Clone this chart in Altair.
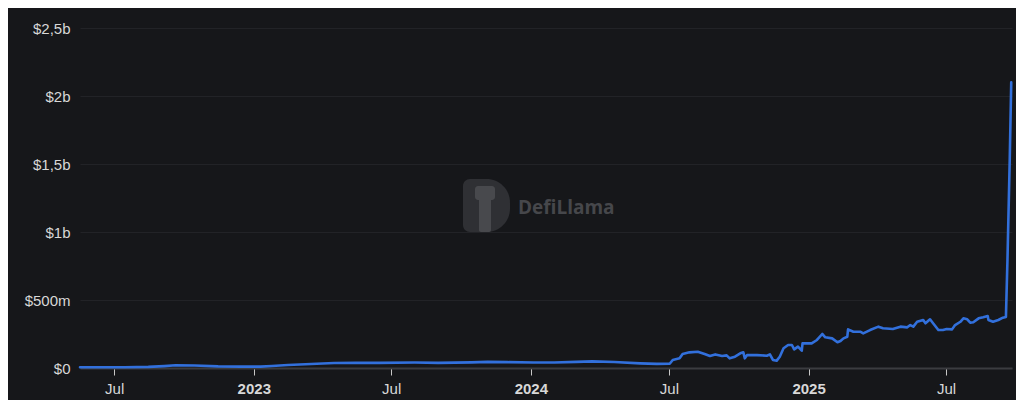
import altair as alt
import pandas as pd

# ---- data (date, TVL in USD) ----
dates = [
    "2022-05-17", "2022-06-15", "2022-07-15", "2022-08-15", "2022-09-05", "2022-09-20",
    "2022-10-15", "2022-11-15", "2022-12-15", "2023-01-10", "2023-01-25", "2023-02-15",
    "2023-03-10", "2023-03-25", "2023-04-17", "2023-05-15", "2023-06-15", "2023-08-01",
    "2023-09-01", "2023-10-15", "2023-11-05", "2023-12-01", "2024-01-05", "2024-02-01",
    "2024-03-01", "2024-03-22", "2024-04-20", "2024-05-24", "2024-06-15", "2024-07-02",
    "2024-07-06", "2024-07-15", "2024-07-19", "2024-07-28", "2024-08-08", "2024-08-17",
    "2024-08-24", "2024-08-31", "2024-09-09", "2024-09-15", "2024-09-19", "2024-09-26",
    "2024-10-03", "2024-10-07", "2024-10-09", "2024-10-12", "2024-10-25", "2024-11-07",
    "2024-11-11", "2024-11-15", "2024-11-20", "2024-11-24", "2024-11-29", "2024-12-05",
    "2024-12-10", "2024-12-13", "2024-12-18", "2024-12-23", "2024-12-24", "2025-01-05",
    "2025-01-12", "2025-01-19", "2025-01-23", "2025-02-01", "2025-02-08", "2025-02-12",
    "2025-02-16", "2025-02-21", "2025-02-22", "2025-03-01", "2025-03-10", "2025-03-14",
    "2025-03-23", "2025-04-03", "2025-04-09", "2025-04-22", "2025-05-02", "2025-05-11",
    "2025-05-15", "2025-05-19", "2025-05-24", "2025-06-01", "2025-06-04", "2025-06-10",
    "2025-06-14", "2025-06-21", "2025-06-27", "2025-07-02", "2025-07-09", "2025-07-13",
    "2025-07-20", "2025-07-24", "2025-07-29", "2025-08-02", "2025-08-06", "2025-08-13",
    "2025-08-19", "2025-08-25", "2025-08-26", "2025-09-01", "2025-09-08", "2025-09-14",
    "2025-09-18", "2025-09-20", "2025-09-23", "2025-09-25",
]
tvl_musd = [
    5, 5, 6, 8, 14, 20,
    18, 12, 10, 10, 15, 22,
    28, 31, 37, 38, 38, 40,
    38, 41, 45, 43, 40, 40,
    45, 49, 44, 34, 30, 31,
    59, 71, 103, 115, 120, 103,
    88, 100, 88, 93, 71, 83,
    108, 115, 71, 95, 95, 90,
    100, 59, 54, 83, 145, 169,
    169, 137, 157, 127, 181, 181,
    206, 250, 226, 218, 189, 198,
    218, 230, 284, 267, 267, 255,
    279, 304, 292, 287, 304, 299,
    316, 304, 340, 353, 329, 358,
    329, 279, 279, 287, 284, 316,
    340, 365, 358, 333, 336, 365,
    373, 382, 353, 340, 353, 370,
    375, 790, 1530, 2100,
]

x_domain = ["2022-05-17T00:00:00", "2025-09-26T00:00:00"]
x_ticks = ["2022-07-01T00:00:00", "2023-01-01T00:00:00", "2023-07-01T00:00:00",
           "2024-01-01T00:00:00", "2024-07-01T00:00:00", "2025-01-01T00:00:00",
           "2025-07-01T00:00:00"]
y_ticks = [0, 500e6, 1000e6, 1500e6, 2000e6, 2500e6]

df = pd.DataFrame({
    "date": [d + "T00:00:00" for d in dates],
    "tvl": [v * 1e6 for v in tvl_musd],
})

label_color = "#d8d8d8"

line = alt.Chart(df).mark_line(
    color="#3270dc", strokeWidth=2.6, strokeCap="round", strokeJoin="round"
).encode(
    x=alt.X(
        "date:T",
        scale=alt.Scale(domain=x_domain),
        axis=alt.Axis(
            title=None,
            values=x_ticks,
            labelExpr="month(datum.value) == 0 ? timeFormat(datum.value, '%Y') : 'Jul'",
            labelFontWeight={"condition": {"test": "month(datum.value) == 0", "value": "bold"},
                             "value": "normal"},
            labelColor=label_color,
            labelFontSize=15,
            labelFont="Liberation Sans",
            labelPadding=6,
            labelFlush=False,
            grid=False,
            domain=True,
            domainColor="#3b3c40",
            domainWidth=2,
            ticks=True,
            tickColor="#c8c8c8",
            tickSize=7,
            tickWidth=1,
        ),
    ),
    y=alt.Y(
        "tvl:Q",
        scale=alt.Scale(domain=[0, 2.5e9], nice=False),
        axis=alt.Axis(
            title=None,
            values=y_ticks,
            labelExpr="datum.value == 0 ? '$0' : (datum.value < 1e9 ? '$' + format(datum.value / 1e6, 'd') + 'm' : '$' + replace(format(datum.value / 1e9, '~g'), '.', ',') + 'b')",
            labelColor=label_color,
            labelFontSize=15,
            labelFont="Liberation Sans",
            labelPadding=10,
            grid=True,
            gridColor="#222327",
            gridWidth=1,
            domain=False,
            ticks=False,
        ),
    ),
)

wm = alt.Data(values=[{"k": 1}])

logo = alt.Chart(wm).mark_rect(
    color="#2f3034",
    cornerRadiusTopLeft=7, cornerRadiusBottomLeft=7,
    cornerRadiusTopRight=26, cornerRadiusBottomRight=26,
).encode(x=alt.value(383), x2=alt.value(430), y=alt.value(151), y2=alt.value(204))

llama_neck = alt.Chart(wm).mark_rect(color="#48494d", cornerRadius=2).encode(
    x=alt.value(399), x2=alt.value(411), y=alt.value(166), y2=alt.value(204))
llama_head = alt.Chart(wm).mark_rect(color="#48494d", cornerRadius=3).encode(
    x=alt.value(395), x2=alt.value(415), y=alt.value(158), y2=alt.value(172))

wm_text = alt.Chart(wm).mark_text(
    text="DefiLlama", font="Open Sans", fontSize=19, fontWeight="bold",
    color="#46474b", align="left", baseline="middle",
).encode(x=alt.value(438), y=alt.value(180))

chart = alt.layer(logo, llama_neck, llama_head, wm_text, line).properties(
    width=932,
    height=340,
    autosize=alt.AutoSizeParams(type="none"),
    padding={"left": 72, "top": 20, "right": 4, "bottom": 32},
    background="#16171a",
).configure_view(stroke=None)

chart.save("out.html", embed_options={"renderer": "svg", "actions": False})
